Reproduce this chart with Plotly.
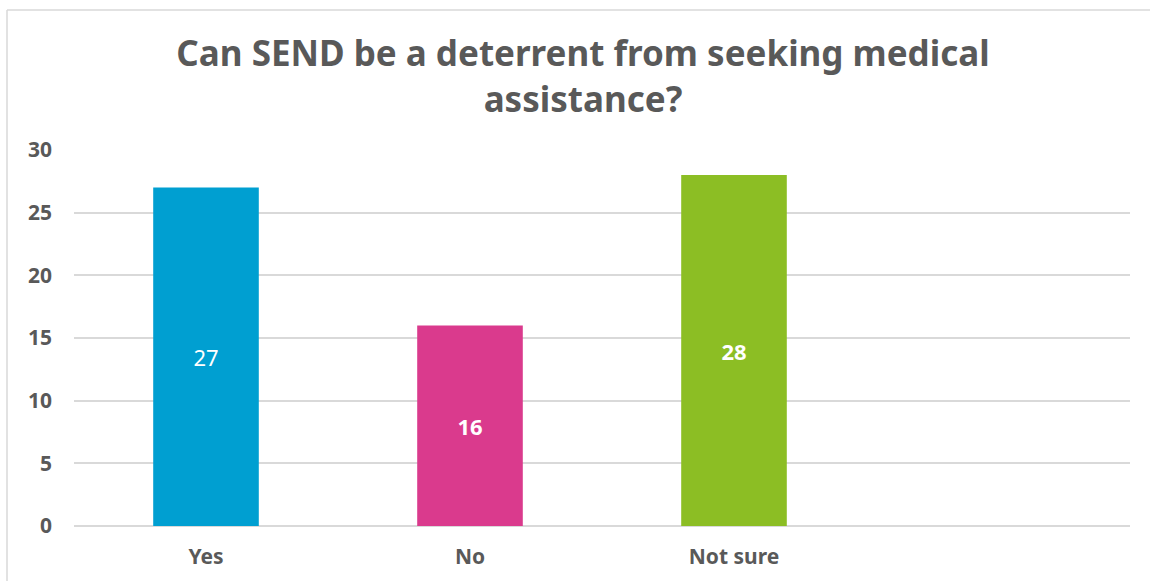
import plotly.graph_objects as go

# Survey responses
categories = ["Yes", "No", "Not sure"]
counts = [27, 16, 28]
bar_colors = ["#009FD1", "#DA3A8D", "#8CBE24"]
label_templates = ["%{y}", "<b>%{y}</b>", "<b>%{y}</b>"]

y_ticks = [0, 5, 10, 15, 20, 25, 30]
y_tick_text = ["<b>%d</b>" % v for v in y_ticks]
x_tick_text = ["<b>%s</b>" % c for c in categories]

title_text = "<b>Can SEND be a deterrent from seeking medical<br>assistance?</b>"

grey_text = "#595959"
grid_grey = "#D9D9D9"
font_family = "Noto Sans, DejaVu Sans, sans-serif"

fig = go.Figure(
    go.Bar(
        x=categories,
        y=counts,
        marker=dict(color=bar_colors, line=dict(width=0)),
        width=0.4,
        texttemplate=label_templates,
        textposition="inside",
        insidetextanchor="middle",
        textangle=0,
        textfont=dict(color="white", size=22, family=font_family),
        hoverinfo="x+y",
    )
)

W, H = 1150, 581
ml, mr, mt, mb = 74, 20, 150, 55
pw = W - ml - mr
ph = H - mt - mb

# outer chart frame (top and left edges visible)
frame_left = (7 - ml) / pw
frame_top = 1 + (mt - 10) / ph

fig.update_layout(
    width=W,
    height=H,
    margin=dict(l=ml, r=mr, t=mt, b=mb),
    paper_bgcolor="white",
    plot_bgcolor="white",
    showlegend=False,
    title=dict(
        text=title_text,
        x=583 / W,
        xanchor="center",
        y=1 - 66 / H,
        yanchor="top",
        font=dict(size=35, color=grey_text, family=font_family),
    ),
    font=dict(family=font_family, color=grey_text),
    xaxis=dict(
        range=[-0.5, 3.5],
        tickmode="array",
        tickvals=categories,
        ticktext=x_tick_text,
        showgrid=False,
        showline=False,
        zeroline=False,
        ticks="",
        tickfont=dict(size=21, color=grey_text, family=font_family),
        ticklabelstandoff=16,
    ),
    yaxis=dict(
        range=[0, 30],
        tickmode="array",
        tickvals=y_ticks,
        ticktext=y_tick_text,
        showgrid=True,
        gridcolor=grid_grey,
        gridwidth=1.5,
        zeroline=True,
        zerolinecolor=grid_grey,
        zerolinewidth=1.5,
        showline=False,
        ticks="",
        tickfont=dict(size=21, color=grey_text, family=font_family),
        ticklabelstandoff=21,
    ),
    shapes=[
        dict(type="line", xref="paper", yref="paper",
             x0=frame_left, x1=frame_left, y0=frame_top, y1=-1,
             line=dict(color=grid_grey, width=1.5)),
        dict(type="line", xref="paper", yref="paper",
             x0=frame_left, x1=2, y0=frame_top, y1=frame_top,
             line=dict(color=grid_grey, width=1.5)),
    ],
)

fig.write_html("out.html")
